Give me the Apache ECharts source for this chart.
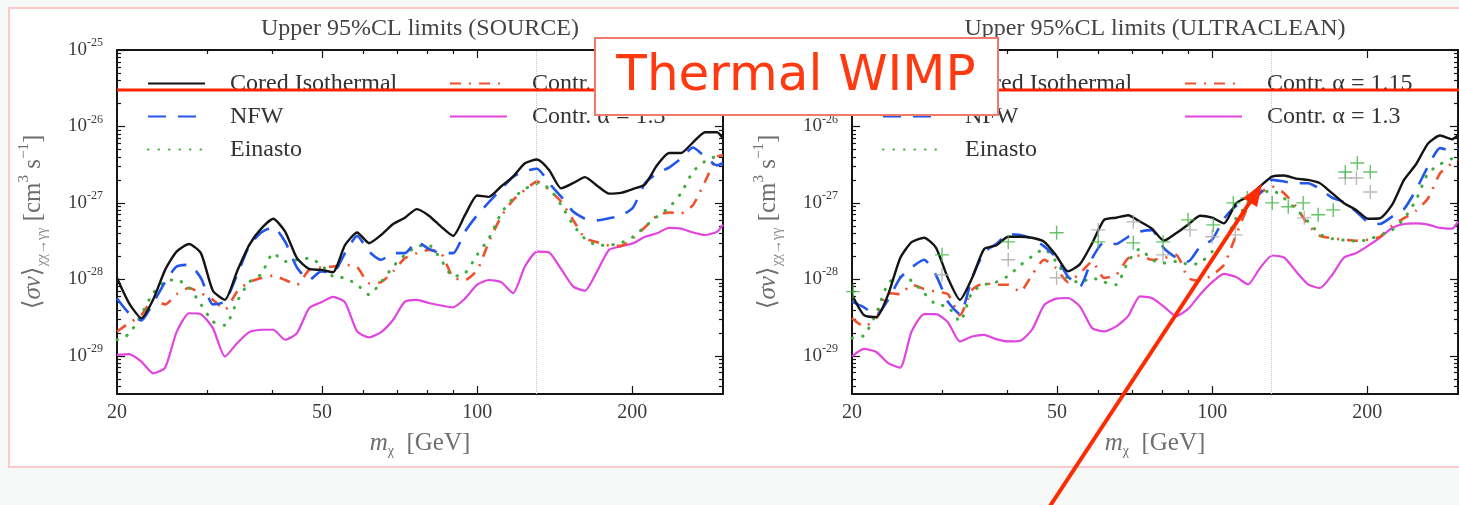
<!DOCTYPE html>
<html>
<head>
<meta charset="utf-8">
<script src="https://cdn.jsdelivr.net/npm/echarts@6/dist/echarts.min.js"></script>
<style>
  html, body { margin: 0; padding: 0; background: #f6f9f8; }
  #chart { width: 1459px; height: 505px; }
</style>
</head>
<body>
<div id="chart"></div>
<script>
// dark matter mass grid (GeV), shared by every curve
const mass = [20.0, 21.1, 22.3, 23.5, 24.8, 26.1, 27.6, 29.1, 30.7, 32.4,
  34.2, 36.1, 38.1, 40.2, 42.4, 44.7, 47.2, 49.8, 52.5, 55.4,
  58.5, 61.7, 65.1, 68.7, 72.4, 76.4, 80.6, 85.1, 89.8, 94.7,
  100, 105.4, 111.3, 117.4, 123.8, 130.7, 137.9, 145.5, 153.5, 161.9,
  170.9, 180.3, 190.2, 200.7, 211.7, 223.4, 235.7, 248.7, 262.4, 276.9,
  292.1, 300];

// SOURCE panel, <sigma v> upper limits (cm^3 s^-1)
const srcCored = [1.04e-28, 4.9e-29, 3.1e-29, 5.4e-29, 1.33e-28, 2.3e-28, 2.9e-28, 2.2e-28, 7.1e-29, 5.4e-29,
  1.27e-28, 2.8e-28, 4.6e-28, 6.2e-28, 4.2e-28, 1.89e-28, 1.37e-28, 1.33e-28, 1.24e-28, 2.8e-28,
  4.1e-28, 2.97e-28, 3.8e-28, 5.3e-28, 6.4e-28, 8.3e-28, 6.8e-28, 4.9e-28, 3.7e-28, 6.9e-28,
  1.25e-27, 1.2e-27, 1.64e-27, 2.21e-27, 3.3e-27, 3.7e-27, 2.7e-27, 1.55e-27, 1.81e-27, 2.17e-27,
  1.68e-27, 1.32e-27, 1.35e-27, 1.52e-27, 1.75e-27, 3.1e-27, 4.5e-27, 4.5e-27, 6.2e-27, 8.4e-27,
  8.4e-27, 7.0e-27];
const srcNFW = [5.6e-29, 3.6e-29, 2.9e-29, 4.9e-29, 9.2e-29, 1.47e-28, 1.55e-28, 1.04e-28, 4.7e-29, 5.1e-29,
  1.14e-28, 2.7e-28, 4.1e-28, 4.8e-28, 3.1e-28, 1.43e-28, 9.8e-29, 1.27e-28, 1.23e-28, 2.2e-28,
  3.7e-28, 2.3e-28, 1.8e-28, 2.2e-28, 2.2e-28, 3.1e-28, 2.5e-28, 2.2e-28, 2.2e-28, 4.2e-28,
  6.9e-28, 1.02e-27, 1.52e-27, 2.19e-27, 2.6e-27, 2.8e-27, 1.81e-27, 1.21e-27, 7.7e-28, 6.2e-28,
  5.9e-28, 6.3e-28, 6.8e-28, 8.7e-28, 1.81e-27, 2.44e-27, 2.9e-27, 3.8e-27, 5.3e-27, 4.0e-27,
  3.1e-27, 3.3e-27];
const srcEinasto = [1.62e-29, 1.92e-29, 3.5e-29, 6.6e-29, 9.4e-29, 9.9e-29, 7.8e-29, 4.7e-29, 2.8e-29, 2.5e-29,
  5.1e-29, 9.2e-29, 1.17e-28, 2.2e-28, 1.71e-28, 1.8e-28, 1.89e-28, 1.55e-28, 1.09e-28, 1.04e-28,
  8.5e-29, 6.3e-29, 9.2e-29, 1.47e-28, 2.09e-28, 2.7e-28, 2.8e-28, 1.8e-28, 1.09e-28, 1.2e-28,
  2.09e-28, 3.45e-28, 7.3e-28, 1.15e-27, 1.52e-27, 1.79e-27, 1.55e-27, 9.4e-28, 5.2e-28, 3.4e-28,
  2.8e-28, 2.8e-28, 3.0e-28, 3.6e-28, 4.9e-28, 6.6e-28, 8.7e-28, 1.34e-27, 2.57e-27, 3.5e-27,
  4.1e-27, 4.2e-27];
const srcContr115 = [2.08e-29, 2.67e-29, 3.4e-29, 5.4e-29, 4.7e-29, 6.4e-29, 7.7e-29, 6.6e-29, 5.4e-29, 4.0e-29,
  6.9e-29, 9.2e-29, 1.04e-28, 1.12e-28, 9.8e-29, 8.5e-29, 1.33e-28, 1.43e-28, 1.47e-28, 1.55e-28,
  1.44e-28, 8.9e-29, 9.2e-29, 1.27e-28, 1.89e-28, 2.2e-28, 2.43e-28, 2.2e-28, 1.06e-28, 9.8e-29,
  1.32e-28, 3.1e-28, 6.6e-28, 1.09e-27, 1.48e-27, 1.9e-27, 1.48e-27, 1.04e-27, 6.0e-28, 3.45e-28,
  3.06e-28, 2.77e-28, 2.74e-28, 3.45e-28, 4.8e-28, 6.8e-28, 7.5e-28, 7.3e-28, 9.4e-28, 1.9e-27,
  4.0e-27, 4.2e-27];
const srcContr13 = [1.03e-29, 1.05e-29, 8.4e-30, 5.9e-30, 7.0e-30, 2.04e-29, 3.6e-29, 3.5e-29, 2.3e-29, 9.8e-30,
  1.46e-29, 2.04e-29, 2.19e-29, 2.19e-29, 1.62e-29, 1.98e-29, 4.2e-29, 5.0e-29, 5.9e-29, 5.0e-29,
  2.08e-29, 1.74e-29, 2.04e-29, 2.96e-29, 5.1e-29, 5.4e-29, 4.9e-29, 4.55e-29, 4.3e-29, 5.6e-29,
  8.5e-29, 9.8e-29, 9.2e-29, 6.6e-29, 1.47e-28, 2.3e-28, 2.24e-28, 1.37e-28, 8.1e-29, 7.1e-29,
  1.27e-28, 2.43e-28, 2.7e-28, 2.97e-28, 3.6e-28, 4.0e-28, 4.7e-28, 4.6e-28, 4.1e-28, 3.8e-28,
  4.2e-28, 5.2e-28];

// ULTRACLEAN panel
const ucCored = [6.3e-29, 3.4e-29, 3.2e-29, 6.3e-29, 1.89e-28, 3.06e-28, 3.5e-28, 2.6e-28, 1.04e-28, 5.4e-29,
  1.04e-28, 2.5e-28, 2.77e-28, 3.6e-28, 3.6e-28, 3.5e-28, 3.1e-28, 2.05e-28, 1.27e-28, 1.58e-28,
  2.97e-28, 6.0e-28, 6.4e-28, 6.9e-28, 5.7e-28, 4.6e-28, 3.2e-28, 4.0e-28, 5.2e-28, 6.8e-28,
  6.4e-28, 5.4e-28, 9.9e-28, 1.21e-27, 1.64e-27, 2.21e-27, 2.28e-27, 2.08e-27, 2.0e-27, 1.81e-27,
  1.34e-27, 9.9e-28, 8.1e-28, 6.2e-28, 6.3e-28, 9.4e-28, 2.0e-27, 3.2e-27, 6.0e-27, 7.6e-27,
  6.8e-27, 7.7e-27];
const ucNFW = [5.1e-29, 4.3e-29, 3.4e-29, 5.4e-29, 1.04e-28, 1.43e-28, 1.8e-28, 1.14e-28, 5.1e-29, 3.5e-29,
  1.04e-28, 2.26e-28, 2.9e-28, 3.9e-28, 3.8e-28, 3.4e-28, 2.7e-28, 1.93e-28, 1.09e-28, 8.1e-29,
  1.89e-28, 3.06e-28, 2.9e-28, 3.6e-28, 4.2e-28, 4.4e-28, 2.56e-28, 1.93e-28, 1.71e-28, 2.66e-28,
  3.3e-28, 6.2e-28, 9.1e-28, 1.04e-27, 1.34e-27, 2.0e-27, 1.9e-27, 1.81e-27, 1.81e-27, 1.52e-27,
  1.17e-27, 1.02e-27, 7.7e-28, 5.6e-28, 5.3e-28, 6.6e-28, 8.3e-28, 1.48e-27, 3.0e-27, 5.2e-27,
  4.8e-27, 5.2e-27];
const ucEinasto = [1.7e-29, 1.84e-29, 3.6e-29, 8.9e-29, 1.07e-28, 9.6e-29, 6.6e-29, 4.7e-29, 4.4e-29, 2.8e-29,
  6.8e-29, 8.5e-29, 9.2e-29, 1.11e-28, 1.52e-28, 1.99e-28, 2.5e-28, 1.71e-28, 1.02e-28, 9.1e-29,
  1.04e-28, 9.2e-29, 8.5e-29, 1.71e-28, 2.5e-28, 1.8e-28, 1.63e-28, 1.71e-28, 1.58e-28, 1.63e-28,
  2.3e-28, 2.94e-28, 6.3e-28, 9.6e-28, 1.31e-27, 1.46e-27, 1.15e-27, 8.3e-28, 5.7e-28, 3.9e-28,
  3.4e-28, 3.25e-28, 3.15e-28, 3.3e-28, 3.8e-28, 4.4e-28, 6.2e-28, 1.09e-27, 2.44e-27, 3.2e-27,
  3.8e-27, 4.2e-27];
const ucContr115 = [3.1e-29, 2.42e-29, 3.1e-29, 6.6e-29, 6.4e-29, 8.5e-29, 7.5e-29, 6.9e-29, 6.4e-29, 3.4e-29,
  7.3e-29, 8.9e-29, 8.5e-29, 8.5e-29, 6.9e-29, 1.14e-28, 1.8e-28, 1.4e-28, 9.2e-29, 1.2e-28,
  1.71e-28, 1.04e-28, 1.14e-28, 1.89e-28, 2.05e-28, 1.8e-28, 1.89e-28, 2.09e-28, 1.04e-28, 9.6e-29,
  1.14e-28, 1.55e-28, 3.8e-28, 8.9e-28, 1.34e-27, 1.64e-27, 1.34e-27, 8.9e-28, 5.2e-28, 3.7e-28,
  3.45e-28, 3.3e-28, 3.2e-28, 3.3e-28, 3.6e-28, 5.05e-28, 6.3e-28, 7.9e-28, 1.15e-27, 2.44e-27,
  3.3e-27, 3.65e-27];
const ucContr13 = [9.8e-30, 1.23e-29, 1.12e-29, 8.0e-30, 7.0e-30, 2.08e-29, 3.5e-29, 3.5e-29, 2.75e-29, 1.54e-29,
  1.79e-29, 1.88e-29, 1.65e-29, 1.54e-29, 1.57e-29, 2.19e-29, 4.6e-29, 5.6e-29, 5.7e-29, 4.4e-29,
  2.3e-29, 2.08e-29, 2.42e-29, 3.3e-29, 6.0e-29, 5.7e-29, 4.4e-29, 3.3e-29, 4.1e-29, 6.3e-29,
  9.2e-29, 1.18e-28, 1.07e-28, 8.6e-29, 1.4e-28, 2.05e-28, 1.93e-28, 1.27e-28, 8.6e-29, 7.7e-29,
  1.14e-28, 1.93e-28, 2.2e-28, 2.74e-28, 3.5e-28, 4.7e-28, 5.3e-28, 5.4e-28, 5.2e-28, 4.7e-28,
  4.6e-28, 5.7e-28];

// "+" markers in the ULTRACLEAN panel
const plusGreenMass = [20.1, 29.9, 40.2, 49.9, 60.1, 70.3, 80.3, 89.8, 100.5, 109.9, 117, 130.8, 140.5, 150.2, 160.6, 171.8, 181.3, 191.3, 202.7];
const plusGreenSv = [6.9e-29, 2.09e-28, 3.09e-28, 4.06e-28, 3.09e-28, 3.0e-28, 3.09e-28, 6.0e-28, 5.15e-28, 1.0e-27, 1.16e-27, 1.0e-27, 8.9e-28, 1.0e-27, 7.0e-28, 8.1e-28, 2.54e-27, 3.33e-27, 2.54e-27];
const plusGreyMass = [29.9, 40.2, 49.9, 60.1, 70.3, 80.3, 90.6, 100, 110.9, 150.9, 181.3, 190.6, 202.7];
const plusGreySv = [1.15e-28, 1.8e-28, 1.05e-28, 4.44e-28, 5.65e-28, 2.09e-28, 4.44e-28, 3.6e-28, 3.82e-28, 6.37e-28, 2.12e-27, 2.12e-27, 1.39e-27];

const thermalSv = 3e-26;
const higgsLine = 130;

// axis ticks / labels
const xLabels = [20, 50, 100, 200];
const xMajorTicks = [50, 100, 200];
const xMinorTicks = [30, 40, 60, 70, 80, 90];
const yDecades = [1e-29, 1e-28, 1e-27, 1e-26, 1e-25];
const yMin = 3.1623e-30, yMax = 1e-25;

// echarts' log scale rounds tiny tick values to 0, so the y axis works in units of 1e-30 cm^3/s
const UNIT_EXP = -30;
const toAxis = v => v * 1e30;

const yMajorAxis = yDecades.map(toAxis);
const yMinorAxis = [];
yMajorAxis.forEach(d => { for (let j = 2; j <= 9; j++) yMinorAxis.push(d * j / 10); });

const legendLeft = ['Cored Isothermal', 'NFW', 'Einasto'];
const legendRight = ['Contr. \u03b1 = 1.15', 'Contr. \u03b1 = 1.3'];

const SERIF = '"Liberation Serif", "DejaVu Serif", serif';
const INK = '#3a3a3a';
const AX = '#151515';
const NAME_INK = '#6e6e6e';

const styles = {
  'Cored Isothermal': { color: '#141414', width: 2.4, type: 'solid', z: 6 },
  'NFW': { color: '#2356ea', width: 2.6, type: [18, 12], z: 5 },
  'Einasto': { color: '#3cae3c', width: 3, type: [0.5, 10], cap: 'round', z: 4 },
  'Contr. \u03b1 = 1.15': { color: '#f0502c', width: 2.6, type: [11, 8, 2, 8], z: 3 },
  'Contr. \u03b1 = 1.3': { color: '#e045e0', width: 2.2, type: 'solid', z: 2 }
};

const chart = echarts.init(document.getElementById('chart'));

const gridBox = [
  { left: 117, top: 50, width: 606, height: 344 },
  { left: 852, top: 50, width: 606, height: 344 }
];

function xAxesFor(g) {
  const base = { type: 'log', logBase: 10, gridIndex: g, min: 20, max: 300, splitLine: { show: false },
    axisLine: { show: false, onZero: false }, axisLabel: { show: false } };
  const tickStyle = { color: AX, width: 1.2 };
  return [
    Object.assign({}, base, {
      position: 'bottom',
      axisLine: { show: true, onZero: false, lineStyle: { color: AX, width: 2 } },
      axisTick: { inside: true, length: 8, customValues: xMajorTicks, lineStyle: tickStyle },
      axisLabel: { show: true, customValues: xLabels, formatter: v => String(Math.round(v)), margin: 9,
        fontFamily: SERIF, fontSize: 20, color: INK },
      name: '{i|m}{s|\u03c7}{t|  [GeV]}', nameLocation: 'middle', nameGap: 34,
      nameTextStyle: { rich: {
        i: { fontFamily: SERIF, fontSize: 25, fontStyle: 'italic', color: NAME_INK, lineHeight: 30 },
        s: { fontFamily: SERIF, fontSize: 14, color: NAME_INK, verticalAlign: 'bottom', lineHeight: 16 },
        t: { fontFamily: SERIF, fontSize: 25, color: NAME_INK, lineHeight: 30 } } }
    }),
    Object.assign({}, base, { position: 'bottom',
      axisTick: { inside: true, length: 4, customValues: xMinorTicks, lineStyle: tickStyle } }),
    Object.assign({}, base, { position: 'top',
      axisLine: { show: true, onZero: false, lineStyle: { color: AX, width: 2 } },
      axisTick: { inside: true, length: 8, customValues: xMajorTicks, lineStyle: tickStyle } }),
    Object.assign({}, base, { position: 'top',
      axisTick: { inside: true, length: 4, customValues: xMinorTicks, lineStyle: tickStyle } })
  ];
}

function yAxesFor(g) {
  const base = { type: 'log', logBase: 10, gridIndex: g, min: toAxis(yMin), max: toAxis(yMax), splitLine: { show: false },
    axisLine: { show: false, onZero: false }, axisLabel: { show: false } };
  const tickStyle = { color: AX, width: 1.2 };
  return [
    Object.assign({}, base, {
      position: 'left',
      axisLine: { show: true, onZero: false, lineStyle: { color: AX, width: 2 } },
      axisTick: { inside: true, length: 8, customValues: yMajorAxis, lineStyle: tickStyle },
      axisLabel: { show: true, customValues: yMajorAxis, margin: 14,
        formatter: v => '{b|10}{s|' + (Math.round(Math.log10(v)) + UNIT_EXP) + '}',
        rich: {
          b: { fontFamily: SERIF, fontSize: 19, color: INK, lineHeight: 26 },
          s: { fontFamily: SERIF, fontSize: 12, color: INK, lineHeight: 14, verticalAlign: 'top' } } },
      name: '{a|\u27e8}{i|\u03c3v}{a|\u27e9}{s|\u03c7\u03c7\u2192\u03b3\u03b3}{a| [cm}{p|3}{a| s}{p|\u22121}{a|]}',
      nameLocation: 'middle', nameRotate: 90, nameGap: 68,
      nameTextStyle: { rich: {
        a: { fontFamily: SERIF, fontSize: 25, color: NAME_INK, lineHeight: 32 },
        i: { fontFamily: SERIF, fontSize: 25, fontStyle: 'italic', color: NAME_INK, lineHeight: 32 },
        s: { fontFamily: SERIF, fontSize: 14, color: '#8a8a8a', lineHeight: 16, verticalAlign: 'bottom' },
        p: { fontFamily: SERIF, fontSize: 15, color: NAME_INK, lineHeight: 16, verticalAlign: 'top' } } }
    }),
    Object.assign({}, base, { position: 'left',
      axisTick: { inside: true, length: 4, customValues: yMinorAxis, lineStyle: tickStyle } }),
    Object.assign({}, base, { position: 'right',
      axisLine: { show: true, onZero: false, lineStyle: { color: AX, width: 2 } },
      axisTick: { inside: true, length: 8, customValues: yMajorAxis, lineStyle: tickStyle } }),
    Object.assign({}, base, { position: 'right',
      axisTick: { inside: true, length: 4, customValues: yMinorAxis, lineStyle: tickStyle } })
  ];
}

function curve(name, values, g) {
  const st = styles[name];
  return {
    name, type: 'line', xAxisIndex: 4 * g, yAxisIndex: 4 * g,
    data: mass.map((m, i) => [m, toAxis(values[i])]),
    symbol: 'none', showSymbol: false, smooth: 0.2, z: st.z,
    itemStyle: { color: st.color },
    lineStyle: { color: st.color, width: st.width, type: st.type, cap: st.cap || 'butt' }
  };
}

function higgsMark(g) {
  return {
    type: 'line', xAxisIndex: 4 * g, yAxisIndex: 4 * g, data: [], silent: true,
    markLine: { silent: true, symbol: ['none', 'none'], label: { show: false },
      lineStyle: { color: '#c8c8c8', type: 'dotted', width: 1 }, data: [{ xAxis: higgsLine }] }
  };
}

const PLUS = 'path://M9,0h2v9h9v2h-9v9h-2v-9h-9v-2h9z';

const panelData = [
  [srcCored, srcNFW, srcEinasto, srcContr115, srcContr13],
  [ucCored, ucNFW, ucEinasto, ucContr115, ucContr13]
];
const names = legendLeft.concat(legendRight);

const series = [];
panelData.forEach((set, g) => {
  series.push(higgsMark(g));
  set.forEach((vals, k) => series.push(curve(names[k], vals, g)));
});
series.push({
  type: 'scatter', xAxisIndex: 4, yAxisIndex: 4, symbol: PLUS, symbolSize: 14, z: 7,
  itemStyle: { color: '#a8a8a8' }, data: plusGreyMass.map((m, i) => [m, toAxis(plusGreySv[i])])
});
series.push({
  type: 'scatter', xAxisIndex: 4, yAxisIndex: 4, symbol: PLUS, symbolSize: 14, z: 7,
  itemStyle: { color: '#3fb43f' }, data: plusGreenMass.map((m, i) => [m, toAxis(plusGreenSv[i])])
});
// thermal relic cross-section, drawn across both panels
series.push({
  type: 'line', xAxisIndex: 8, yAxisIndex: 8, symbol: 'none', z: 10, silent: true,
  lineStyle: { color: '#ff2400', width: 3 }, data: [[0, toAxis(thermalSv)], [1, toAxis(thermalSv)]]
});

function legendBlock(items, left) {
  return {
    data: items, orient: 'vertical', left: left, top: 66, itemWidth: 57, itemHeight: 14, itemGap: 8,
    selectedMode: false,
    itemStyle: { color: 'rgba(0,0,0,0)', borderWidth: 0, opacity: 0 },
    textStyle: { fontFamily: SERIF, fontSize: 24, color: '#333', lineHeight: 25, padding: [0, 0, 0, 20] }
  };
}

const titleStyle = { fontFamily: SERIF, fontSize: 24, fontWeight: 'normal', color: '#444' };

const option = {
  animation: false,
  title: [
    { text: 'Upper 95%CL limits (SOURCE)', left: 420, top: 17, textAlign: 'center', padding: 0, textStyle: titleStyle },
    { text: 'Upper 95%CL limits (ULTRACLEAN)', left: 1155, top: 17, textAlign: 'center', padding: 0, textStyle: titleStyle }
  ],
  legend: [
    legendBlock(legendLeft, 142),
    legendBlock(legendRight, 444),
    legendBlock(legendLeft, 877),
    legendBlock(legendRight, 1179)
  ],
  grid: [gridBox[0], gridBox[1], { left: 117, top: 50, width: 1342, height: 344 }],
  xAxis: xAxesFor(0).concat(xAxesFor(1), [{ type: 'value', gridIndex: 2, min: 0, max: 1, show: false }]),
  yAxis: yAxesFor(0).concat(yAxesFor(1), [{ type: 'log', gridIndex: 2, min: toAxis(yMin), max: toAxis(yMax), show: false }]),
  series: series,
  graphic: [
    { type: 'rect', z: -10, silent: true, shape: { x: 9, y: 8, width: 1470, height: 459 },
      style: { fill: '#ffffff', stroke: '#fbcaca', lineWidth: 2 } },
    { type: 'rect', z: 50, silent: true, shape: { x: 595, y: 38, width: 403, height: 77 },
      style: { fill: '#ffffff', stroke: '#f27a6a', lineWidth: 2 } },
    { type: 'text', z: 51, silent: true, x: 796, y: 77,
      style: { text: 'Thermal WIMP', fill: '#ff3a10', font: '50px "DejaVu Sans", sans-serif',
        textAlign: 'center', textVerticalAlign: 'middle' } },
    { type: 'line', z: 50, silent: true, shape: { x1: 1050, y1: 506, x2: 1250, y2: 202 },
      style: { stroke: '#ff2a00', lineWidth: 4 } },
    { type: 'polygon', z: 50, silent: true, shape: { points: [[1262, 184], [1257, 207], [1243, 198]] },
      style: { fill: '#ff2a00' } }
  ]
};

chart.setOption(option);
</script>
</body>
</html>
